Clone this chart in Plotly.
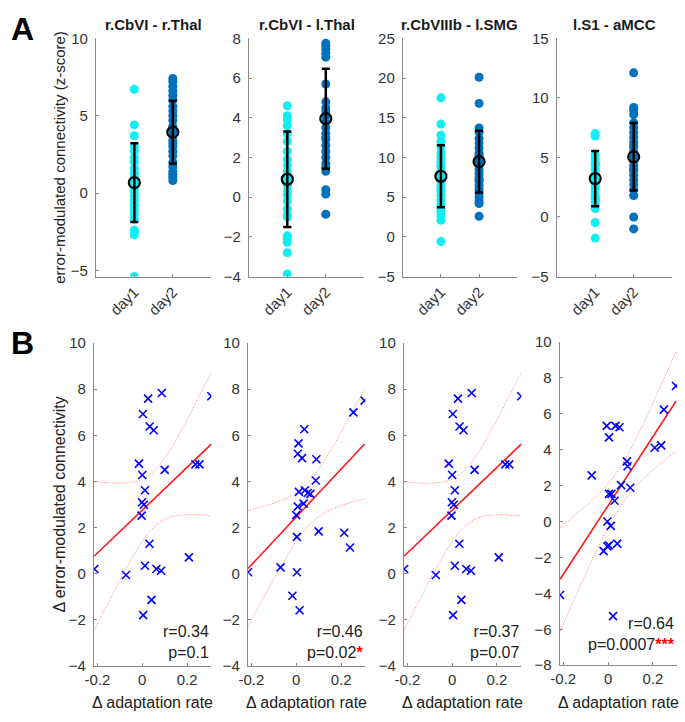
import numpy as np
import plotly.graph_objects as go

W, H = 685, 722

# ---------------- data ----------------
titles_A = ["r.CbVI - r.Thal", "r.CbVI - l.Thal", "r.CbVIIIb - l.SMG", "l.S1 - aMCC"]
day_labels = ["day1", "day2"]

a1_day1 = [6.7, 4.4, 3.7, 3.0, 2.7, 2.3, 2.0, 1.6, 1.3, 1.0, 0.7, 0.4, 0.1, -0.2, -0.5, -0.8, -1.1, -1.4, -1.7, -2.4, -2.55, -2.7, -5.4, 0.9]
a1_day2 = [7.4, 7.2, 6.9, 6.6, 6.3, 6.0, 5.6, 5.3, 5.0, 4.7, 4.3, 4.0, 3.7, 3.4, 3.0, 2.7, 2.4, 2.0, 1.7, 1.4, 1.2, 1.0, 0.8, 3.2]
a2_day1 = [4.6, 4.1, 3.9, 3.6, 3.2, 2.8, 1.9, 1.6, 1.3, 1.0, 0.6, 0.3, 0.1, -0.2, -0.6, -0.9, -1.0, -1.95, -2.1, -2.27, -2.8, -3.87, 2.3, 0.8]
a2_day2 = [7.75, 7.6, 7.45, 7.25, 7.05, 5.7, 4.8, 4.5, 4.1, 3.8, 3.5, 3.2, 2.9, 2.6, 2.3, 2.0, 1.7, 1.5, 1.3, 0.37, 0.15, -0.86, 4.3, 3.0]
a3_day1 = [17.5, 14.2, 12.8, 12.0, 11.3, 10.6, 10.0, 9.4, 8.8, 8.2, 7.6, 7.0, 6.4, 5.8, 5.2, 4.6, 4.1, 3.6, 3.1, 2.1, -0.6, 9.0, 6.0, 2.6]
a3_day2 = [20.1, 16.8, 13.7, 13.2, 12.4, 11.8, 11.2, 10.6, 10.0, 9.5, 9.0, 8.5, 8.0, 7.5, 7.0, 6.5, 6.0, 5.5, 5.0, 4.5, 4.2, 2.6, 10.3, 7.2]
a4_day1 = [7.0, 6.8, 5.2, 4.9, 4.6, 4.3, 4.0, 3.7, 3.4, 3.1, 2.8, 2.5, 2.2, 1.9, 1.6, 1.3, 1.0, 0.7, -0.46, -1.77, 3.5, 2.9, 4.4, 1.5]
a4_day2 = [12.1, 9.2, 8.95, 8.6, 7.9, 7.5, 7.1, 6.7, 6.3, 5.9, 5.5, 5.1, 4.7, 4.3, 3.9, 3.5, 3.1, 2.7, 2.3, 1.8, 0.0, -1.0, 6.0, 4.0]

mean_day1 = [0.67, 0.90, 7.63, 3.22]
sd_day1 = [2.55, 2.40, 3.90, 2.32]
mean_day2 = [3.93, 3.95, 9.47, 5.05]
sd_day2 = [2.03, 2.52, 3.90, 2.83]

A_yranges = [[-5.4, 10], [-4, 8], [-5, 25], [-5, 15]]
A_yticks = [[-5, 0, 5, 10], [-4, -2, 0, 2, 4, 6, 8], [-5, 0, 5, 10, 15, 20, 25], [-5, 0, 5, 10, 15]]

b1_x = [-0.015, 0.026, 0.087, 0.003, 0.033, 0.051, 0.308, 0.0, 0.10, 0.237, 0.255, 0.012, -0.001, 0.007, -0.003, 0.032, -0.214, -0.073, 0.004, 0.012, 0.041, 0.063, 0.084, 0.208]
b1_y = [4.77, 7.59, 7.83, 6.92, 6.38, 6.22, 7.69, 4.28, 4.50, 4.74, 4.74, 3.62, 3.10, 2.99, 2.52, 1.30, 0.21, -0.05, -1.79, 0.35, -1.13, 0.21, 0.13, 0.71]
b2_x = [-0.215, -0.07, 0.003, -0.017, 0.015, 0.003, 0.10, 0.214, 0.24, 0.0, 0.007, 0.033, 0.012, 0.039, 0.051, 0.063, 0.087, 0.09, 0.01, 0.007, 0.026, 0.036, 0.255, 0.305]
b2_y = [0.07, 0.28, 0.07, -0.95, -1.58, 1.60, 1.84, 1.78, 1.14, 2.54, 2.91, 3.04, 3.55, 3.62, 3.50, 3.46, 4.04, 4.96, 5.65, 5.20, 5.01, 6.26, 6.99, 7.50]
b3_x = [-0.015, 0.026, 0.087, 0.003, 0.033, 0.051, 0.308, 0.0, 0.10, 0.237, 0.255, 0.012, -0.001, 0.007, -0.003, 0.032, -0.214, -0.073, 0.004, 0.012, 0.041, 0.063, 0.084, 0.208]
b3_y = [4.77, 7.59, 7.83, 6.92, 6.38, 6.22, 7.69, 4.28, 4.50, 4.74, 4.74, 3.62, 3.10, 2.99, 2.52, 1.30, 0.21, -0.05, -1.79, 0.35, -1.13, 0.21, 0.13, 0.71]
b4_x = [-0.214, -0.073, 0.022, -0.02, -0.003, 0.004, 0.041, -0.003, 0.012, 0.004, 0.015, 0.029, 0.058, 0.099, 0.084, 0.087, -0.006, 0.004, 0.033, 0.051, 0.208, 0.237, 0.249, 0.303]
b4_y = [-4.09, 2.57, -5.27, -1.65, -1.38, -1.32, -1.23, 0.0, -0.24, 1.54, 1.54, 1.16, 2.03, 1.88, 3.35, 3.08, 5.33, 4.69, 5.33, 5.25, 4.11, 4.24, 6.23, 7.55]

B_r_text = ["r=0.34", "r=0.46", "r=0.37", "r=0.64"]
B_p_text = ["p=0.1", "p=0.02", "p=0.07", "p=0.0007"]
B_stars = ["", "*", "", "***"]
B_yranges = [[-4, 10], [-4, 10], [-4, 10], [-8, 10]]
B_xrange = [-0.216, 0.308]
B_xticks = [-0.2, 0, 0.2]
B_xticklabels = ["-0.2", "0", "0.2"]

T_CRIT = 2.074  # t(0.975, df=22)

# ---------------- style / layout ----------------
FONT = "Liberation Sans, Arial, Helvetica, sans-serif"
CYAN = "#12EEF2"
BLUE = "#0072BD"
AXC = "#8a8a8a"
TXT = "#333333"

A_px = [(88, 205), (243, 360), (399, 515), (555, 672)]
A_py = (30, 274)
B_px = [(86, 205), (242, 361), (400, 519), (558, 677)]
B_py = [(342, 673), (342, 673), (342, 673), (341, 672)]


def xd(p):
    return [p[0] / W, p[1] / W]


def yd(p):
    return [1 - p[1] / H, 1 - p[0] / H]


fig = go.Figure()
layout = dict(
    width=W, height=H, margin=dict(l=0, r=0, t=0, b=0),
    paper_bgcolor="white", plot_bgcolor="white", showlegend=False,
    font=dict(family=FONT, size=15, color=TXT),
)

axis_common = dict(showline=True, linecolor=AXC, linewidth=1, ticks="inside", ticklen=3,
                   tickcolor=AXC, showgrid=False, zeroline=False,
                   tickfont=dict(family=FONT, size=15, color=TXT))

A_day1 = [a1_day1, a2_day1, a3_day1, a4_day1]
A_day2 = [a1_day2, a2_day2, a3_day2, a4_day2]
annotations = []

for i in range(4):
    k = i + 1
    xa = "x" if k == 1 else f"x{k}"
    ya = "y" if k == 1 else f"y{k}"
    fig.add_trace(go.Scatter(x=[1] * len(A_day1[i]), y=A_day1[i], mode="markers", xaxis=xa, yaxis=ya,
                             marker=dict(color=CYAN, size=9, line=dict(width=0))))
    fig.add_trace(go.Scatter(x=[2] * len(A_day2[i]), y=A_day2[i], mode="markers", xaxis=xa, yaxis=ya,
                             marker=dict(color=BLUE, size=9, line=dict(width=0))))
    fig.add_trace(go.Scatter(x=[1, 2], y=[mean_day1[i], mean_day2[i]], mode="markers", xaxis=xa, yaxis=ya,
                             error_y=dict(type="data", array=[sd_day1[i], sd_day2[i]], color="black",
                                          thickness=2.5, width=4),
                             marker=dict(symbol="circle-open", color="black", size=11, line=dict(width=2.2))))
    layout[f"xaxis{k if k > 1 else ''}"] = dict(axis_common, domain=xd(A_px[i]), range=[0, 3],
                                                tickvals=[1, 2], ticktext=day_labels, tickangle=-45,
                                                anchor=ya)
    layout[f"yaxis{k if k > 1 else ''}"] = dict(axis_common, domain=yd(A_py), range=A_yranges[i],
                                                tickvals=A_yticks[i], anchor=xa, ticklabelstandoff=4)
    annotations.append(dict(text=f"<b>{titles_A[i]}</b>", x=(A_px[i][0] + A_px[i][1]) / 2 / W,
                            y=1 - 16 / H, xref="paper", yref="paper", showarrow=False,
                            xanchor="center", yanchor="middle",
                            font=dict(family=FONT, size=15, color="#1a1a1a")))

B_x = [b1_x, b2_x, b3_x, b4_x]
B_y = [b1_y, b2_y, b3_y, b4_y]
for j in range(4):
    k = j + 5
    xa, ya = f"x{k}", f"y{k}"
    x = np.asarray(B_x[j], dtype=float)
    y = np.asarray(B_y[j], dtype=float)
    n = len(x)
    slope, icpt = np.polyfit(x, y, 1)
    xs = np.linspace(x.min(), x.max(), 120)
    yh = icpt + slope * xs
    s = np.sqrt(np.sum((y - (icpt + slope * x)) ** 2) / (n - 2))
    sxx = np.sum((x - x.mean()) ** 2)
    hw = T_CRIT * s * np.sqrt(1 / n + (xs - x.mean()) ** 2 / sxx)
    for band in (yh + hw, yh - hw):
        fig.add_trace(go.Scatter(x=xs, y=band, mode="lines", xaxis=xa, yaxis=ya,
                                 line=dict(color="rgba(255,40,40,0.6)", width=1, dash="1px,1.5px")))
    fig.add_trace(go.Scatter(x=xs, y=yh, mode="lines", xaxis=xa, yaxis=ya,
                             line=dict(color="#ff1a1a", width=1.6)))
    fig.add_trace(go.Scatter(x=x, y=y, mode="markers", xaxis=xa, yaxis=ya,
                             marker=dict(symbol="x-thin", size=8, color="#0000ff",
                                         line=dict(color="#0000ff", width=1.6))))
    layout[f"xaxis{k}"] = dict(axis_common, domain=xd(B_px[j]), range=B_xrange,
                               tickvals=B_xticks, ticktext=B_xticklabels, anchor=ya)
    layout[f"yaxis{k}"] = dict(axis_common, domain=yd(B_py[j]), range=B_yranges[j],
                               dtick=2, anchor=xa, ticklabelstandoff=4)
    star = f"<span style='color:#ff0000'><b>{B_stars[j]}</b></span>" if B_stars[j] else ""
    ylow = 0.075 if j < 3 else 0.095
    annotations.append(dict(text=f"{B_r_text[j]}<br>{B_p_text[j]}{star}", xref=f"x{k} domain",
                            yref=f"y{k} domain", x=1.0, y=ylow, xanchor="right", yanchor="middle",
                            align="right", showarrow=False, font=dict(family=FONT, size=16, color="#222")))
    annotations.append(dict(text="\u0394 adaptation rate", x=(B_px[j][0] + B_px[j][1]) / 2 / W,
                            y=1 - 710 / H, xref="paper", yref="paper", showarrow=False,
                            xanchor="center", yanchor="middle", font=dict(family=FONT, size=16, color="#222")))

annotations.append(dict(text="error-modulated connectivity (z-score)", x=51 / W, y=1 - 152 / H,
                        xref="paper", yref="paper", showarrow=False, textangle=-90,
                        xanchor="center", yanchor="middle", font=dict(family=FONT, size=15, color="#222")))
annotations.append(dict(text="\u0394 error-modulated connectivity", x=51 / W, y=1 - 507 / H,
                        xref="paper", yref="paper", showarrow=False, textangle=-90,
                        xanchor="center", yanchor="middle", font=dict(family=FONT, size=16, color="#222")))
annotations.append(dict(text="<b>A</b>", x=14 / W, y=1 - 20 / H, xref="paper", yref="paper",
                        showarrow=False, xanchor="center", yanchor="middle",
                        font=dict(family=FONT, size=32, color="black")))
annotations.append(dict(text="<b>B</b>", x=14 / W, y=1 - 342 / H, xref="paper", yref="paper",
                        showarrow=False, xanchor="center", yanchor="middle",
                        font=dict(family=FONT, size=32, color="black")))

layout["annotations"] = annotations
fig.update_layout(**layout)
fig.write_html("out.html")
